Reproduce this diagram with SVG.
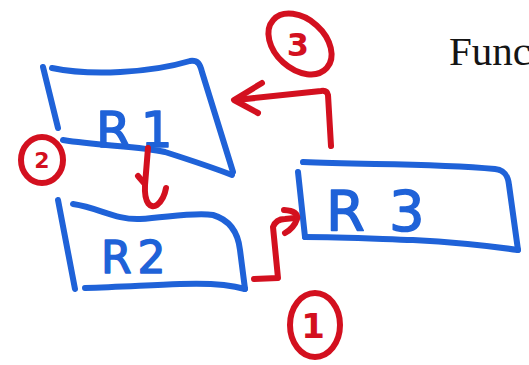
<svg xmlns="http://www.w3.org/2000/svg" width="529" height="365" viewBox="0 0 529 365">
  <style>
    .box { fill: none; stroke: #1f62d8; stroke-width: 6; stroke-linecap: round; stroke-linejoin: round; }
    .ink { fill: none; stroke: #d3101f; stroke-width: 6; stroke-linecap: round; stroke-linejoin: round; }
    .label { fill: #1f62d8; stroke: #1f62d8; stroke-width: 1.5; stroke-linejoin: round; font-family: "DejaVu Sans", "Liberation Sans", sans-serif; }
    .num { fill: #d3101f; font-family: "DejaVu Sans", "Liberation Sans", sans-serif; font-weight: bold; text-anchor: middle; }
    .title { fill: #151515; font-family: "Liberation Serif", "Times New Roman", serif; }
  </style>
  <rect width="529" height="365" fill="#ffffff"/>

  <!-- hand-drawn register boxes -->
  <g id="r1">
    <path class="box" d="M43,67 L58,128"/>
    <path class="box" d="M52,68 C90,76 150,73 190,61 C198,60 200,64 202,72 L233,172"/>
    <path class="box" d="M63,140 C100,146 140,146 165,152 C190,160 214,168 232,175"/>
    <text class="label" x="96" y="147" font-size="50" letter-spacing="10">R1</text>
  </g>

  <g id="r2">
    <path class="box" d="M58,200 L75,289"/>
    <path class="box" d="M73,204 C100,208 115,220 140,219 C170,217 195,212 213,215 C230,220 238,232 240,250 L245,289"/>
    <path class="box" d="M85,288 C120,287 150,285 180,284 C205,283 228,284 245,289"/>
    <text class="label" x="101" y="273" font-size="44" letter-spacing="6">R2</text>
  </g>

  <g id="r3">
    <path class="box" d="M298,172 L305,237"/>
    <path class="box" d="M303,162 C360,165 430,163 495,169 C505,170 508,176 509,185 L518,250"/>
    <path class="box" d="M305,237 C340,237 380,239 413,240 C450,242 490,246 518,250"/>
    <text class="label" x="326" y="230" font-size="56" letter-spacing="24">R3</text>
  </g>

  <!-- arrows between boxes -->
  <g id="connectors">
    <!-- R2 to R3 -->
    <path class="ink" d="M254,279 L278,278 L273,227 Q276,219 285,219 L295,218"/>
    <path class="ink" d="M284,210 Q299,211 297,219 Q294,228 285,233"/>
    <!-- R1 to R2 -->
    <path class="ink" d="M148,148 L145,185 C144,204 151,209 157,205 C162,201 165,194 166,188"/>
    <path class="ink" d="M138,176 L144,183"/>
    <!-- R3 to R1 -->
    <path class="ink" d="M331,146 L328,95 Q327,90 321,91 L236,100"/>
    <path class="ink" d="M262,83 L234,100 L258,113"/>
  </g>

  <!-- circled step numbers -->
  <g id="step-3">
    <ellipse class="ink" cx="300" cy="44" rx="36" ry="25" transform="rotate(42 300 44)"/>
    <text class="num" x="298" y="56" font-size="32">3</text>
  </g>
  <g id="step-2">
    <ellipse class="ink" cx="42" cy="160" rx="21" ry="23"/>
    <text class="num" x="42" y="168" font-size="22">2</text>
  </g>
  <g id="step-1">
    <ellipse class="ink" cx="315" cy="325" rx="25" ry="32"/>
    <text class="num" x="313" y="338" font-size="34">1</text>
  </g>

  <text class="title" x="449" y="65" font-size="41">Func</text>
</svg>
